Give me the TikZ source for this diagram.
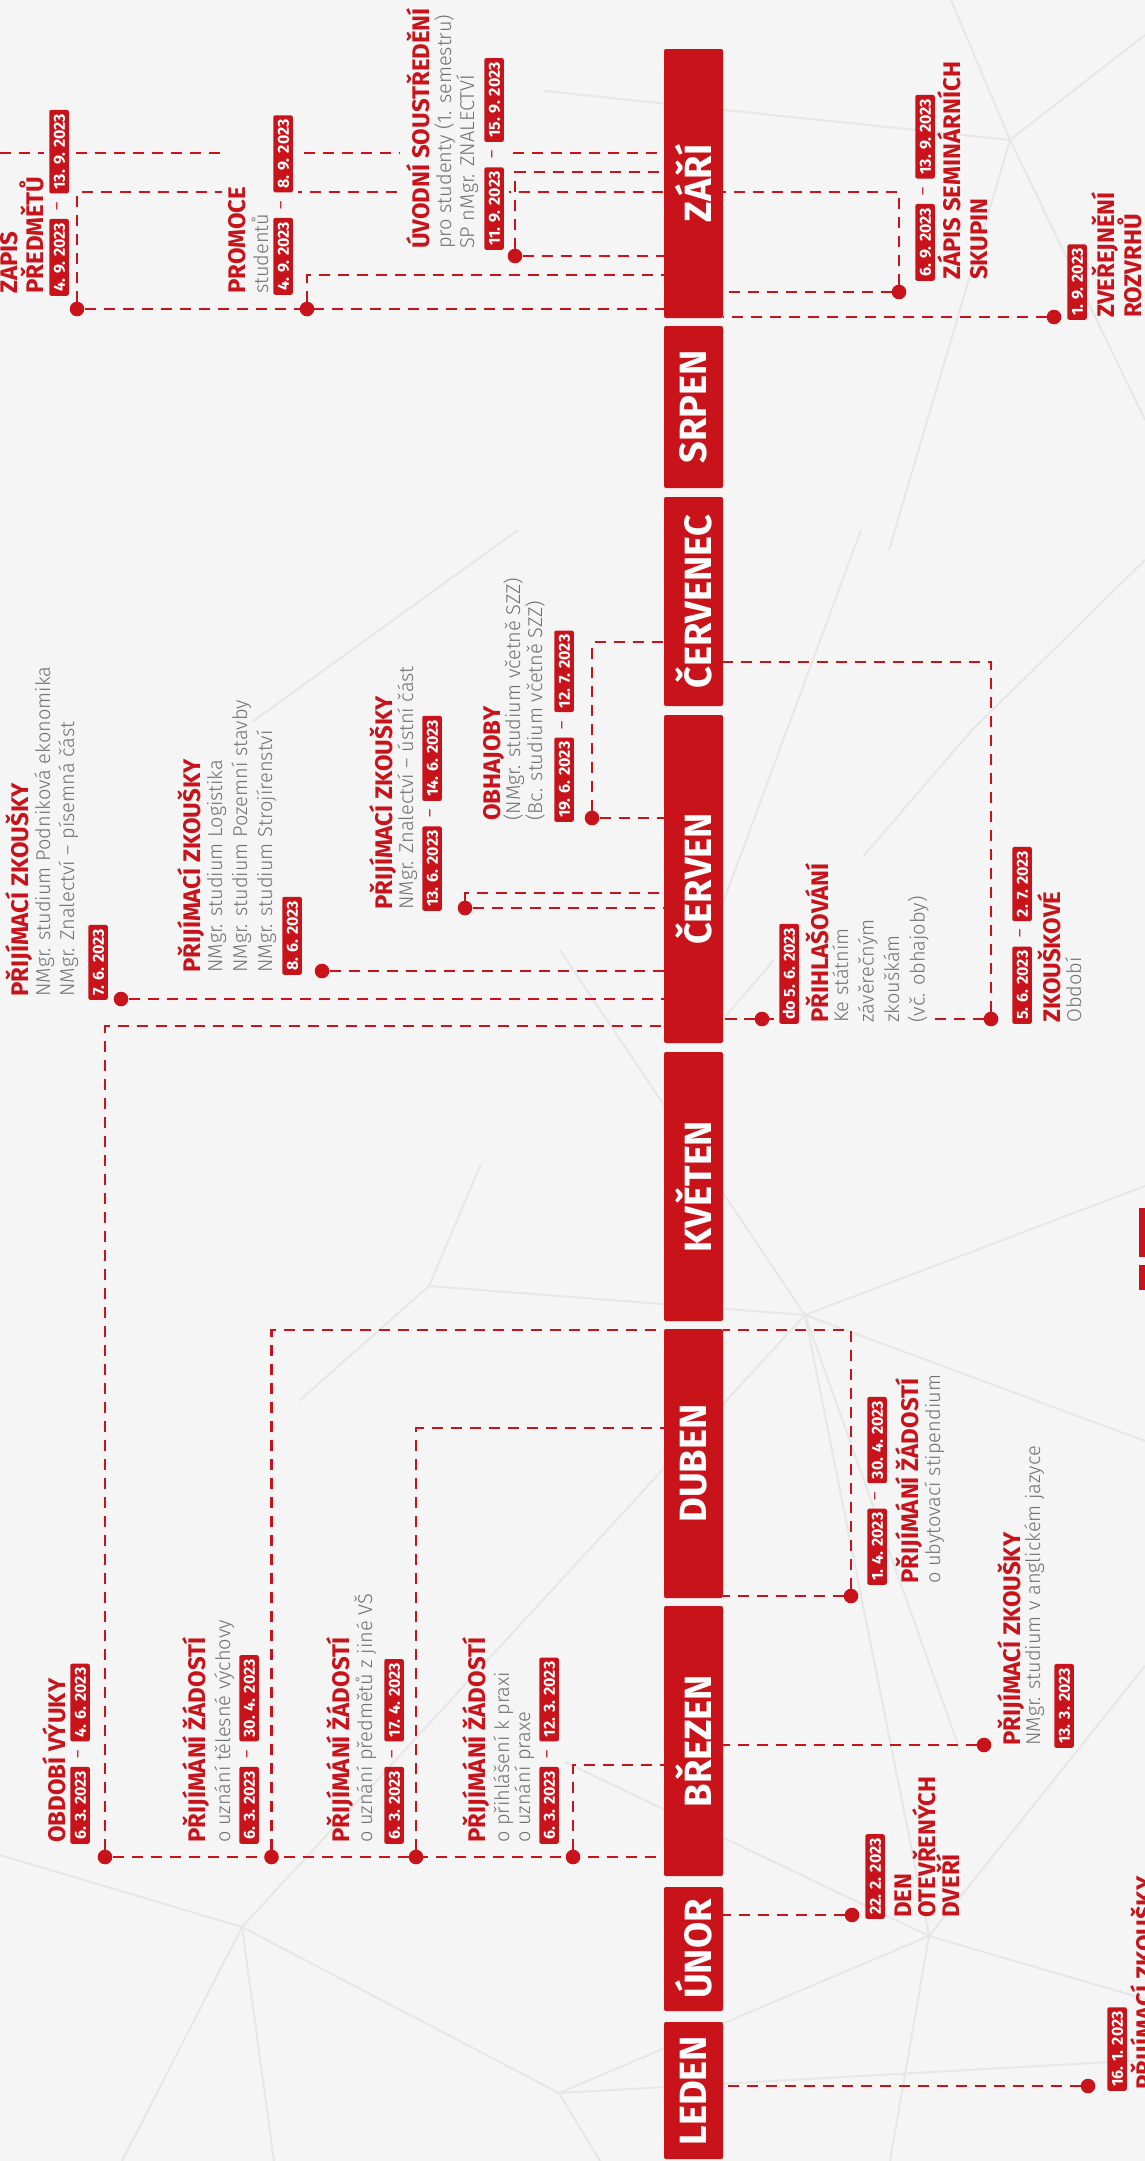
\documentclass[tikz,border=0pt]{standalone}
\usepackage{fontspec}
\usepackage{graphicx}
\setmainfont{Fira Sans}
\newfontfamily\lightfont{Fira Sans Light}
\usetikzlibrary{calc,fit}
\definecolor{cvred}{RGB}{200,19,26}
\definecolor{cvbg}{RGB}{245,245,245}
\definecolor{cvgray}{RGB}{112,112,112}
\definecolor{cvmesh}{RGB}{231,231,231}
\pgfdeclarelayer{wires}
\pgfdeclarelayer{masks}
\pgfsetlayers{wires,masks,main}
\newcommand \mylines[6]
{
\foreach \txt [count=\i] in {#6}
  \node[#2, anchor=base west] (#1\i) at ({#3+(\i-1)*#5},#4) {\txt};
}
\newcommand \mydate[4]
{
\node[evbadge, anchor=south west] (#1) at (#2,#3) {#4};
}
\newcommand \myrange[5]
{
\node[evbadge, anchor=south west] (#1a) at (#2,#3) {#4};
\node[evbadge, anchor=south west] (#1b) at ([yshift=25pt]#1a.south east) {#5};
\node[evdash] (#1c) at ($(#1a.east)!0.5!(#1b.west)$) {–};
}
\begin{document}
\begin{tikzpicture}[x=1pt, y=-1pt,
  month/.style={fill=cvred, text=white, rounded corners=2pt, inner sep=0pt, minimum width=59pt, font=\bfseries\fontsize{38}{38}\selectfont},
  evdot/.style={circle, fill=cvred, inner sep=0pt, minimum size=14.6pt},
  link/.style={cvred, line width=2.8pt, dash pattern=on 11pt off 8pt},
  mesh/.style={cvmesh, line width=2pt},
  evhead/.style={rotate=90, text=cvred, inner sep=1pt, font=\bfseries\fontsize{24}{24}\selectfont},
  evdesc/.style={rotate=90, text=cvgray, inner sep=1pt, font=\lightfont\fontsize{20}{20}\selectfont},
  evbadge/.style={rotate=90, fill=cvred, text=white, rounded corners=2pt, inner xsep=4pt, inner ysep=4pt, text height=11.5pt, text depth=0pt, font=\bfseries\fontsize{16}{16}\selectfont},
  evdash/.style={rotate=90, text=cvred, inner sep=1pt, font=\fontsize{16}{16}\selectfont},
  evmask/.style={fill=cvbg, inner sep=5pt}]
\useasboundingbox (0,0) rectangle (1145,2161);
\begin{pgfonlayer}{wires}
\fill[cvbg] (0,0) rectangle (1145,2161);
% background mesh
\coordinate (m1) at (805,1315);
\coordinate (m2) at (242,1927);
\coordinate (m3) at (559,2093);
\coordinate (m4) at (929,1936);
\coordinate (m5) at (1010,140);
\coordinate (m6) at (429,1286);
\draw[mesh] (m1) -- (m6) (m1) -- (1145,1186) (m1) -- (1145,1441) (m1) -- (960,1750)
  (m1) -- (m4) (m1) -- (m2) (m1) -- (560,950);
\draw[mesh] (m2) -- (0,1855) (m2) -- (m3) (m2) -- (122,2161) (m2) -- (274,2161);
\draw[mesh] (m4) -- (565,1762) (m4) -- (1145,1999) (m4) -- (890,2161) (m4) -- (1145,1666) (m4) -- (m3);
\draw[mesh] (m3) -- (600,2161) (m3) -- (1145,2060);
\draw[mesh] (m5) -- (951,0) (m5) -- (1145,35) (m5) -- (545,91) (m5) -- (889,550) (m5) -- (1145,420);
\draw[mesh] (724,1018) -- (972,730) -- (1145,560) (861,530) -- (724,900) (252,722) -- (518,530);
\draw[mesh] (m6) -- (481,1164) (m6) -- (300,1400);
\end{pgfonlayer}

% months
\foreach \mn/\mc/\mh/\mt in {sep/183.5/269/ZÁŘÍ, aug/407/162/SRPEN, jul/601.5/209/ČERVENEC,
  jun/879/328/ČERVEN, may/1186.5/269/KVĚTEN, apr/1463.5/269/DUBEN,
  mar/1741/270/BŘEZEN, feb/1949/124/ÚNOR, jan/2090.5/137/LEDEN}
  \node[month, minimum height=\mh pt] (\mn) at (693.5,\mc) {\rotatebox{90}{\mt}};

% dots
\node[evdot] (zp)  at (77,309) {};
\node[evdot] (pr)  at (307,309) {};
\node[evdot] (uv)  at (515,256) {};
\node[evdot] (zs)  at (899,292) {};
\node[evdot] (zr)  at (1054,317) {};
\node[evdot] (kz1) at (121,999) {};
\node[evdot] (kz2) at (322,971) {};
\node[evdot] (kz3) at (465,908) {};
\node[evdot] (ob)  at (592,818) {};
\node[evdot] (ph)  at (762,1019) {};
\node[evdot] (zk)  at (991,1019) {};
\node[evdot] (ov)  at (105,1857) {};
\node[evdot] (tv)  at (271.5,1857) {};
\node[evdot] (up)  at (416,1857) {};
\node[evdot] (px)  at (573,1857) {};
\node[evdot] (ub)  at (851,1596) {};
\node[evdot] (aj)  at (984,1745) {};
\node[evdot] (dod) at (852,1915) {};
\node[evdot] (kz0) at (1088,2086) {};
\coordinate (sepx) at (0,153);

% connectors
\begin{pgfonlayer}{wires}
\draw[link] (sepx) -- (sepx -| sep.west);
\draw[link] (zp) -- (zp -| sep.west);
\draw[link] (zp) |- (sep.west |- 0,192);
\draw[link] (pr) |- (sep.west |- 0,275);
\draw[link] (uv) -- (uv -| sep.west);
\draw[link] (uv) |- (sep.west |- 0,172);
\draw[link] (zs) -- (zs -| sep.east);
\draw[link] (zs) |- (sep.east |- 0,192);
\draw[link] (zr) -- (zr -| sep.east);
\draw[link] (kz1) -- (kz1 -| jun.west);
\draw[link] (kz2) -- (kz2 -| jun.west);
\draw[link] (kz3) -- (kz3 -| jun.west);
\draw[link] (kz3) |- (jun.west |- 0,893);
\draw[link] (ob) -- (ob -| jun.west);
\draw[link] (ob) |- (jul.west |- 0,642);
\draw[link] (ph) -- (ph -| jun.east);
\draw[link] (zk) -- (zk -| jun.east);
\draw[link] (zk) |- (jul.east |- 0,662);
\draw[link] (ov) -- (ov -| mar.west);
\draw[link] (ov) |- (jun.west |- 0,1026);
\draw[link] (tv) |- (apr.west |- 0,1330);
\draw[link] (up) |- (apr.west |- 0,1428);
\draw[link] (px) |- (mar.west |- 0,1765);
\draw[link] (ub) -- (ub -| apr.east);
\draw[link] (ub) |- (apr.east |- 0,1330);
\draw[link] (aj) -- (aj -| mar.east);
\draw[link] (dod) -- (dod -| feb.east);
\draw[link] (kz0) -- (kz0 -| jan.east);
\end{pgfonlayer}

% september
\mylines{zph}{evhead}{17}{295}{26}{ZÁPIS,PŘEDMĚTŮ}
\myrange{zpd}{69}{296}{4. 9. 2023}{13. 9. 2023}
\mylines{prh}{evhead}{245}{295}{26}{PROMOCE}
\mylines{prs}{evdesc}{268}{295}{24}{studentů}
\myrange{prd}{293}{295}{4. 9. 2023}{8. 9. 2023}
\mylines{uvh}{evhead}{429}{250}{26}{ÚVODNÍ SOUSTŘEDĚNÍ}
\mylines{uvs}{evdesc}{451}{250}{23}{pro studenty (1. semestru),SP nMgr. ZNALECTVÍ}
\myrange{uvd}{504}{250}{11. 9. 2023}{15. 9. 2023}
\myrange{zsd}{935}{281}{6. 9. 2023}{13. 9. 2023}
\mylines{zsh}{evhead}{960}{281}{27}{ZÁPIS SEMINÁRNÍCH,SKUPIN}
\mydate{zrd}{1087}{320}{1. 9. 2023}
\mylines{zrh}{evhead}{1114}{319}{27}{ZVEŘEJNĚNÍ,ROZVRHŮ}

% june, july
\mylines{kz1h}{evhead}{28}{998}{26}{PŘIJÍMACÍ ZKOUŠKY}
\mylines{kz1s}{evdesc}{50}{998}{24}{NMgr. studium Podniková ekonomika,NMgr. Znalectví – písemná část}
\mydate{kz1d}{108}{1000}{7. 6. 2023}
\mylines{kz2h}{evhead}{200}{974}{26}{PŘIJÍMACÍ ZKOUŠKY}
\mylines{kz2s}{evdesc}{222}{974}{25}{NMgr. studium Logistika,NMgr. studium Pozemní stavby,NMgr. studium Strojírenství}
\mydate{kz2d}{302}{975}{8. 6. 2023}
\mylines{kz3h}{evhead}{392}{911}{26}{PŘIJÍMACÍ ZKOUŠKY}
\mylines{kz3s}{evdesc}{413}{911}{24}{NMgr. Znalectví – ústní část}
\myrange{kz3d}{442}{911}{13. 6. 2023}{14. 6. 2023}
\mylines{obh}{evhead}{500}{822}{26}{OBHAJOBY}
\mylines{obs}{evdesc}{520}{822}{22}{(NMgr. studium včetně SZZ),(Bc. studium včetně SZZ)}
\myrange{obd}{574}{822}{19. 6. 2023}{12. 7. 2023}
\mydate{phd}{799}{1024}{do 5. 6. 2023}
\mylines{phh}{evhead}{828}{1024}{26}{PŘIHLAŠOVÁNÍ}
\mylines{phs}{evdesc}{848}{1024}{25.5}{Ke státním,závěrečným,zkouškám,(vč. obhajoby)}
\myrange{zkd}{1032}{1024}{5. 6. 2023}{2. 7. 2023}
\mylines{zkh}{evhead}{1060}{1024}{26}{ZKOUŠKOVÉ}
\mylines{zks}{evdesc}{1081}{1024}{24}{Období}

% january - april
\mylines{ovh}{evhead}{65}{1844}{26}{OBDOBÍ VÝUKY}
\myrange{ovd}{90}{1844}{6. 3. 2023}{4. 6. 2023}
\mylines{tvh}{evhead}{205}{1844}{26}{PŘIJÍMÁNÍ ŽÁDOSTÍ}
\mylines{tvs}{evdesc}{230}{1844}{24}{o uznání tělesné výchovy}
\myrange{tvd}{259}{1844}{6. 3. 2023}{30. 4. 2023}
\mylines{uph}{evhead}{349}{1844}{26}{PŘIJÍMÁNÍ ŽÁDOSTÍ}
\mylines{ups}{evdesc}{372}{1844}{24}{o uznání předmětů z jiné VŠ}
\myrange{upd}{404}{1844}{6. 3. 2023}{17. 4. 2023}
\mylines{pxh}{evhead}{485}{1844}{26}{PŘIJÍMÁNÍ ŽÁDOSTÍ}
\mylines{pxs}{evdesc}{509}{1844}{21}{o přihlášení k praxi,o uznání praxe}
\myrange{pxd}{559}{1844}{6. 3. 2023}{12. 3. 2023}
\myrange{ubd}{887}{1585}{1. 4. 2023}{30. 4. 2023}
\mylines{ubh}{evhead}{918}{1585}{26}{PŘIJÍMÁNÍ ŽÁDOSTÍ}
\mylines{ubs}{evdesc}{940}{1585}{24}{o ubytovací stipendium}
\mylines{ajh}{evhead}{1020}{1747}{26}{PŘIJÍMACÍ ZKOUŠKY}
\mylines{ajs}{evdesc}{1040}{1747}{24}{NMgr. studium v anglickém jazyce}
\mydate{ajd}{1074}{1748}{13. 3. 2023}
\mydate{dodd}{885}{1919}{22. 2. 2023}
\mylines{dodh}{evhead}{911}{1919}{24}{DEN,OTEVŘENÝCH,DVEŘÍ}
\mydate{kz0d}{1127}{2091}{16. 1. 2023}
\mylines{kz0h}{evhead}{1153}{2091}{26}{PŘIJÍMACÍ ZKOUŠKY}

% masks under crossed texts
\begin{pgfonlayer}{masks}
\node[evmask, fit=(zpdb)] {};
\node[evmask, fit=(prh1)(prs1)(prda)(prdb)] {};
\node[evmask, fit=(uvh1)(uvs1)(uvs2)(uvda)(uvdb)] {};
\node[evmask, fit=(phd)(phh1)(phs1)(phs2)(phs3)(phs4)] {};
\end{pgfonlayer}

% legend bars
\fill[cvred] (1139,1208) rectangle (1150,1257);
\fill[cvred] (1139,1265) rectangle (1150,1290);
\end{tikzpicture}
\end{document}
